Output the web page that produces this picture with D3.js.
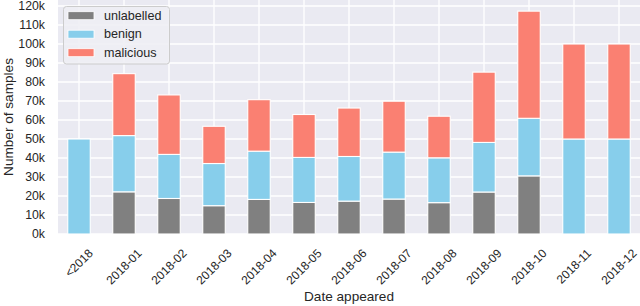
<!DOCTYPE html>
<html>
<head>
<meta charset="utf-8">
<script src="https://cdn.jsdelivr.net/npm/d3@7"></script>
<style>
  html, body { margin: 0; padding: 0; background: #ffffff; }
  svg { display: block; }
  text { font-family: "Liberation Sans", Arial, sans-serif; fill: #262626; }
</style>
</head>
<body>
<svg id="chart" width="640" height="306"></svg>
<script>
const categories = ["<2018", "2018-01", "2018-02", "2018-03", "2018-04", "2018-05", "2018-06",
  "2018-07", "2018-08", "2018-09", "2018-10", "2018-11", "2018-12"];
const unlabelled = [0, 22200, 18700, 14900, 18200, 16600, 17300, 18400, 16500, 22100, 30600, 0, 0];
const benign = [50000, 29600, 23200, 22200, 25400, 23700, 23500, 24700, 23600, 26100, 30300, 50000, 50000];
const malicious = [0, 32600, 31300, 19600, 27100, 22600, 25500, 26800, 21900, 37000, 56400, 50000, 50000];
const seriesNames = ["unlabelled", "benign", "malicious"];
const seriesColors = ["#808080", "#87CEEB", "#FA8072"];
const yTicks = [0, 10000, 20000, 30000, 40000, 50000, 60000, 70000, 80000, 90000, 100000, 110000, 120000];

const svg = d3.select("#chart");
const pLeft = 58, pRight = 640, pTop = 0, pBottom = 234;

const rows = categories.map((c, i) => ({ cat: c, unlabelled: unlabelled[i], benign: benign[i], malicious: malicious[i] }));
const stack = d3.stack().keys(seriesNames)(rows);
const maxTotal = d3.max(rows, r => r.unlabelled + r.benign + r.malicious);

const x = d3.scaleBand().domain(categories).range([pLeft, pRight]).paddingInner(0.5).paddingOuter(0.2167);
const y = d3.scaleLinear().domain([0, maxTotal * 1.05]).range([pBottom, pTop]);
const color = d3.scaleOrdinal().domain(seriesNames).range(seriesColors);

// background
svg.append("rect").attr("x", pLeft).attr("y", pTop).attr("width", pRight - pLeft).attr("height", pBottom - pTop)
  .attr("fill", "#EAEAF2");

// grid
const grid = svg.append("g");
grid.selectAll("line.h").data(yTicks).join("line")
  .attr("x1", pLeft).attr("x2", pRight)
  .attr("y1", d => y(d)).attr("y2", d => y(d))
  .attr("stroke", "#ffffff").attr("stroke-width", 1.3);
grid.selectAll("line.v").data(categories).join("line")
  .attr("x1", d => x(d) + x.bandwidth() / 2).attr("x2", d => x(d) + x.bandwidth() / 2)
  .attr("y1", pTop).attr("y2", pBottom)
  .attr("stroke", "#ffffff").attr("stroke-width", 1.3);

// bars
const layers = svg.append("g").selectAll("g").data(stack).join("g")
  .attr("fill", d => color(d.key));
layers.selectAll("rect").data(d => d.filter(s => s[1] - s[0] > 0)).join("rect")
  .attr("x", d => x(d.data.cat))
  .attr("width", x.bandwidth())
  .attr("y", d => y(d[1]))
  .attr("height", d => y(d[0]) - y(d[1]))
  .attr("stroke", "#ffffff").attr("stroke-width", 1.1);

// y axis labels
svg.append("g").selectAll("text").data(yTicks).join("text")
  .attr("x", 45).attr("y", d => y(d))
  .attr("text-anchor", "end").attr("dominant-baseline", "central")
  .style("font-size", "12.3px")
  .text(d => (d / 1000) + "k");

// x axis labels rotated 45
const fs = 12;
const xl = svg.append("g").selectAll("g").data(categories).join("g");
xl.each(function (d) {
  const g = d3.select(this);
  const t = g.append("text")
    .attr("text-anchor", "middle").attr("dominant-baseline", "central")
    .style("font-size", fs + "px").text(d);
  const L = t.node().getComputedTextLength();
  const hgt = (L + 0.75 * fs) * Math.SQRT1_2;
  const cx = x(d) + x.bandwidth() / 2;
  const cy = 248 + hgt / 2;
  g.attr("transform", `translate(${cx},${cy}) rotate(-45)`);
});

// axis titles
svg.append("text").attr("x", (pLeft + pRight) / 2).attr("y", 301)
  .attr("text-anchor", "middle").style("font-size", "13.6px").text("Date appeared");
svg.append("text").attr("transform", `translate(13,${(pTop + pBottom) / 2}) rotate(-90)`)
  .attr("text-anchor", "middle").style("font-size", "13.6px").text("Number of samples");

// legend
const lg = svg.append("g");
lg.append("rect").attr("x", 63.5).attr("y", 6.5).attr("width", 106).attr("height", 57.5)
  .attr("rx", 3).attr("fill", "#EEEEF4").attr("fill-opacity", 0.9)
  .attr("stroke", "#cccccc").attr("stroke-width", 1);
const items = lg.selectAll("g.item").data(seriesNames).join("g")
  .attr("transform", (d, i) => `translate(0,${15.7 + i * 18.5})`);
items.append("rect").attr("x", 68).attr("y", -4).attr("width", 26).attr("height", 8)
  .attr("fill", d => color(d)).attr("stroke", "#ffffff").attr("stroke-width", 0.8);
items.append("text").attr("x", 104).attr("y", 0).attr("dominant-baseline", "central")
  .style("font-size", "12.6px").text(d => d);
</script>
</body>
</html>
